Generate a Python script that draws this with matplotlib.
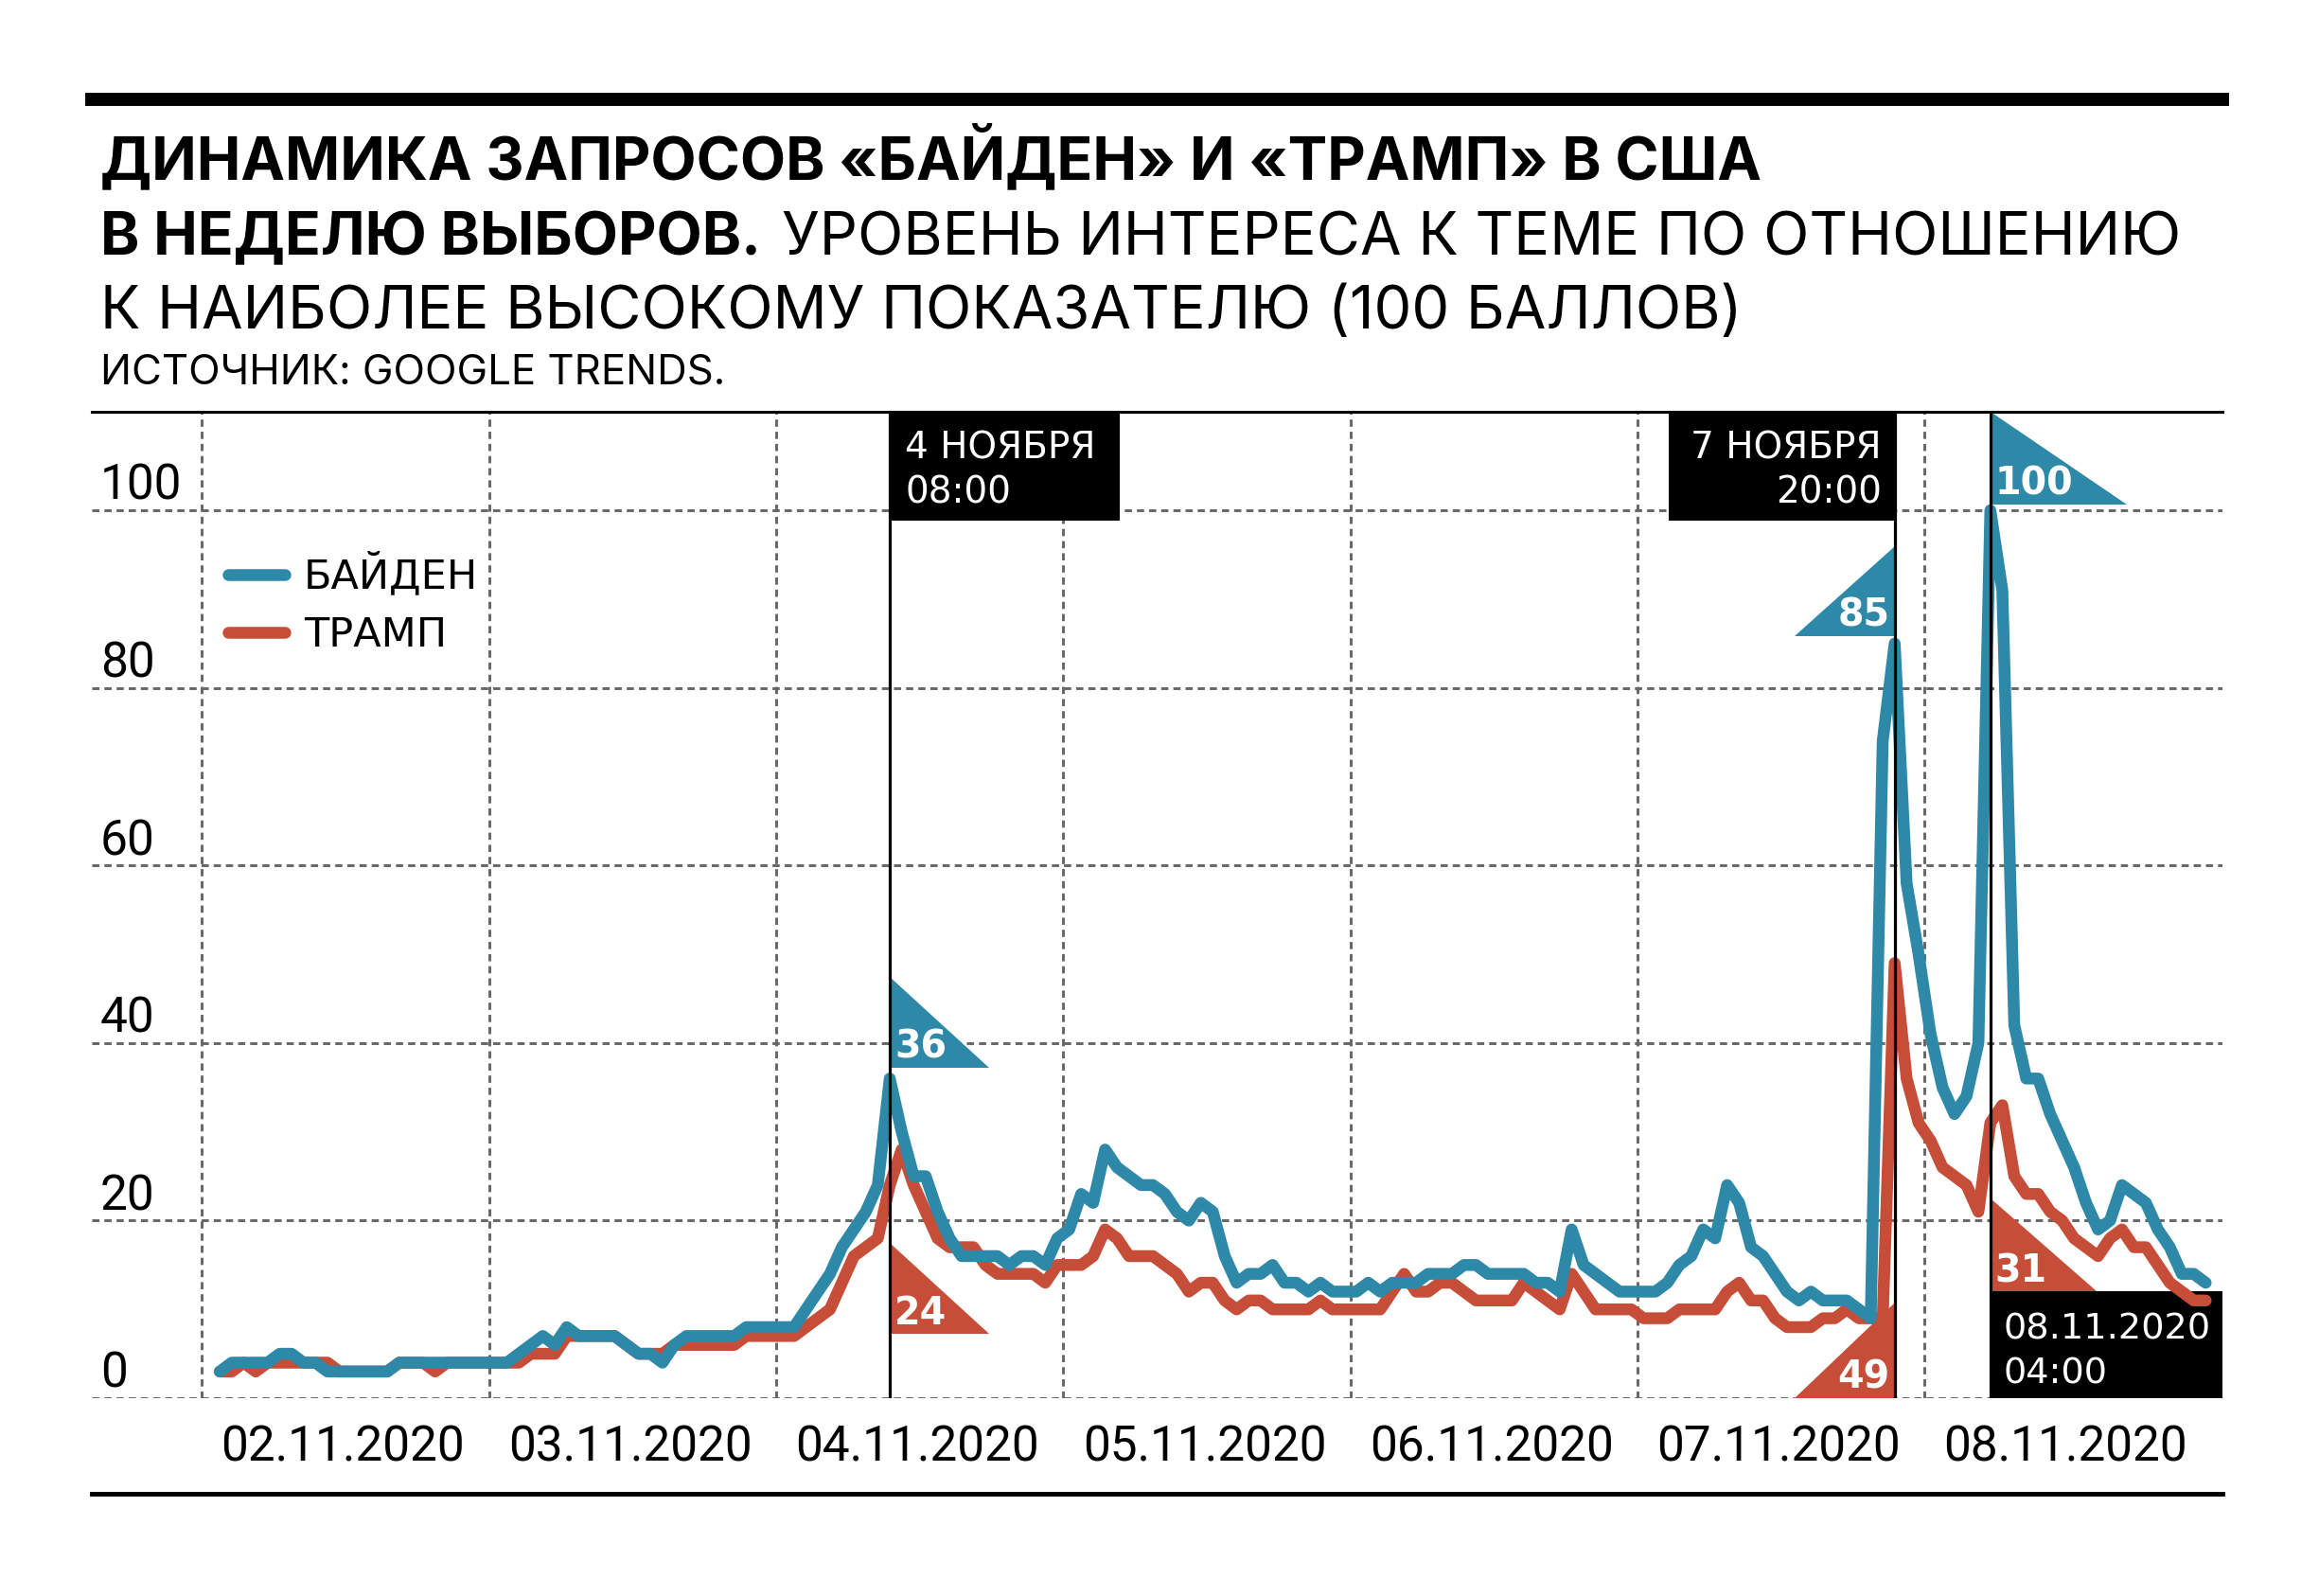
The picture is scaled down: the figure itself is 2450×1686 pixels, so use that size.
import matplotlib
matplotlib.use("Agg")
import matplotlib.pyplot as plt
from matplotlib.patches import Rectangle, Polygon
import numpy as np

################################################################################
# Google Trends, hourly values from 02.11.2020 00:00
biden = [3, 4, 4, 4, 4, 5, 5, 4, 4, 3, 3, 3, 3, 3, 3, 4, 4, 4, 4, 4,
         4, 4, 4, 4, 4, 5, 6, 7, 6, 8, 7, 7, 7, 7, 6, 5, 5, 4, 6, 7,
         7, 7, 7, 7, 8, 8, 8, 8, 8, 10, 12, 14, 17, 19, 21, 24, 36, 30, 25, 25,
         21, 18, 16, 16, 16, 16, 15, 16, 16, 15, 18, 19, 23, 22, 28, 26, 25, 24, 24, 23,
         21, 20, 22, 21, 16, 13, 14, 14, 15, 13, 13, 12, 13, 12, 12, 12, 13, 12, 13, 13,
         13, 14, 14, 14, 15, 15, 14, 14, 14, 14, 13, 13, 12, 19, 15, 14, 13, 12, 12, 12,
         12, 13, 15, 16, 19, 18, 24, 22, 17, 16, 14, 12, 11, 12, 11, 11, 11, 10, 9, 74,
         85, 58, 50, 41, 35, 32, 34, 40, 100, 91, 42, 36, 36, 32, 29, 26, 22, 19, 20, 24,
         23, 22, 19, 17, 14, 14, 13]
trump = [3, 3, 4, 3, 4, 4, 4, 4, 4, 4, 3, 3, 3, 3, 3, 4, 4, 4, 3, 4,
         4, 4, 4, 4, 4, 4, 5, 5, 5, 7, 7, 7, 7, 7, 6, 5, 5, 5, 6, 6,
         6, 6, 6, 6, 7, 7, 7, 7, 7, 8, 9, 10, 13, 16, 17, 18, 24, 28, 24, 21,
         18, 17, 17, 17, 15, 14, 14, 14, 14, 13, 15, 15, 15, 16, 19, 18, 16, 16, 16, 15,
         14, 12, 13, 13, 11, 10, 11, 11, 10, 10, 10, 10, 11, 10, 10, 10, 10, 10, 12, 14,
         12, 12, 13, 13, 12, 11, 11, 11, 11, 13, 12, 11, 10, 14, 12, 10, 10, 10, 10, 9,
         9, 9, 10, 10, 10, 10, 12, 13, 11, 11, 9, 8, 8, 8, 9, 9, 10, 9, 9, 9,
         49, 36, 31, 29, 26, 25, 24, 21, 31, 33, 25, 23, 23, 21, 20, 18, 17, 16, 18, 19,
         17, 17, 15, 13, 12, 11, 11]
hours = np.arange(len(biden))

day_labels = ["02.11.2020", "03.11.2020", "04.11.2020", "05.11.2020",
              "06.11.2020", "07.11.2020", "08.11.2020"]
y_ticks = [0, 20, 40, 60, 80, 100]

# marked moments (hour index)
marks = [56, 140, 148]

BLUE = "#2E88A8"
RED = "#C64E38"
GRID = "#666666"
SANS = ["Roboto", "DejaVu Sans"]
HEAD = ["Inter", "Roboto", "DejaVu Sans"]
WIDE = ["DejaVu Sans"]

################################################################################
W, H = 2450, 1686
fig = plt.figure(figsize=(W / 100, H / 100), dpi=100)
fig.patch.set_facecolor("white")


def fx(px):
    return px / W


def fy(py):
    return 1 - py / H


ax = fig.add_axes([fx(97), fy(1477), (2348 - 97) / W, (1477 - 435) / H])
ax.set_xlim(-10.7, 167.4)
ax.set_ylim(0, 111.1)
ax.axis("off")

# grid
for v in y_ticks:
    ax.axhline(v, color=GRID, lw=2.1, ls=(0, (2.6, 1.8)), zorder=1)
    ax.text(-10.0, v + 1.2, str(v), fontsize=37, family=SANS,
            ha="left", va="baseline", zorder=6)
for k, lab in enumerate(day_labels):
    ax.axvline(-1.5 + 24 * k, color=GRID, lw=2.1, ls=(0, (2.6, 1.8)), zorder=1)
    ax.text(10.3 + 24 * k, -5.6, lab, fontsize=37, family=SANS,
            ha="center", va="center", clip_on=False)
ax.axhline(111.1, color="black", lw=2.2, zorder=6, clip_on=False)

# data
ax.plot(hours, trump, color=RED, lw=9, solid_capstyle="round",
        solid_joinstyle="round", zorder=4)
ax.plot(hours, biden, color=BLUE, lw=9, solid_capstyle="round",
        solid_joinstyle="round", zorder=4.5)

# marked hours
for m in marks:
    ax.plot([m, m], [0, 111.1], color="black", lw=2.3, zorder=5)


def flag(h, bottom, height, width, color, text, side):
    d = 1 if side == "right" else -1
    tri = Polygon([(h, bottom + height), (h, bottom), (h + d * width, bottom)],
                  closed=True, facecolor=color, edgecolor="none", zorder=3)
    ax.add_patch(tri)
    ax.text(h + d * 0.4, bottom + 1.1, text, color="white", fontsize=28.5,
            family=WIDE, weight="bold", ha="left" if d > 0 else "right",
            va="baseline", zorder=6)


flag(marks[0], 37.2, 10.3, 8.3, BLUE, str(biden[marks[0]]), "right")
flag(marks[0], 7.2, 10.3, 8.3, RED, str(trump[marks[0]]), "right")
flag(marks[1], 85.8, 10.2, 8.4, BLUE, str(biden[marks[1]]), "left")
flag(marks[1], 0.0, 10.8, 8.4, RED, str(trump[marks[1]]), "left")
flag(marks[2], 100.7, 10.4, 11.4, BLUE, str(biden[marks[2]]), "right")
flag(marks[2], 12.0, 10.5, 8.9, RED, str(trump[marks[2]]), "right")

# black date boxes
BOX_FS = 28
ax.add_patch(Rectangle((marks[0], 98.8), 19.2, 12.3, facecolor="black",
                       edgecolor="none", zorder=2))
ax.text(marks[0] + 1.3, 105.8, "4 НОЯБРЯ", color="white", fontsize=BOX_FS,
        family=WIDE, ha="left", va="baseline", zorder=6)
ax.text(marks[0] + 1.3, 100.8, "08:00", color="white", fontsize=BOX_FS,
        family=WIDE, ha="left", va="baseline", zorder=6)

ax.add_patch(Rectangle((marks[1] - 18.9, 98.8), 18.9, 12.3, facecolor="black",
                       edgecolor="none", zorder=2))
ax.text(marks[1] - 1.1, 105.8, "7 НОЯБРЯ", color="white", fontsize=BOX_FS,
        family=WIDE, ha="right", va="baseline", zorder=6)
ax.text(marks[1] - 1.1, 100.8, "20:00", color="white", fontsize=BOX_FS,
        family=WIDE, ha="right", va="baseline", zorder=6)

ax.add_patch(Rectangle((marks[2], 0), 167.4 - marks[2], 12.0,
                       facecolor="black", edgecolor="none", zorder=2))
ax.text(marks[2] + 1.1, 6.7, "08.11.2020", color="white", fontsize=27.5,
        family=WIDE, ha="left", va="baseline", zorder=6)
ax.text(marks[2] + 1.1, 1.7, "04:00", color="white", fontsize=27.5,
        family=WIDE, ha="left", va="baseline", zorder=6)

# legend
h_b, = ax.plot([], [], color=BLUE, lw=9, solid_capstyle="round")
h_t, = ax.plot([], [], color=RED, lw=9, solid_capstyle="round")
leg = ax.legend([h_b, h_t], ["БАЙДЕН", "ТРАМП"], loc="upper left",
                bbox_to_anchor=(0.064, 0.857), frameon=False,
                prop={"family": WIDE, "size": 31}, handlelength=1.4,
                handletextpad=0.45, labelspacing=0.45, borderaxespad=0,
                borderpad=0)
leg.set_zorder(7)

# header rules
fig.add_artist(plt.Line2D([fx(97), fx(2348)], [fy(105), fy(105)],
                          color="black", lw=10))
fig.add_artist(plt.Line2D([fx(97), fx(2348)], [fy(1578), fy(1578)],
                          color="black", lw=3.5))

# titles
fig.text(fx(106), fy(189), "ДИНАМИКА ЗАПРОСОВ «БАЙДЕН» И «ТРАМП» В США",
         fontsize=45, weight="bold", family=HEAD, va="baseline")
t_bold = fig.text(fx(106), fy(269), "В НЕДЕЛЮ ВЫБОРОВ.", fontsize=45,
                  weight="bold", family=HEAD, va="baseline")
fig.canvas.draw()
bb = t_bold.get_window_extent()
fig.text(bb.x1 / W + fx(22), fy(269), "УРОВЕНЬ ИНТЕРЕСА К ТЕМЕ ПО ОТНОШЕНИЮ",
         fontsize=45.5, family=HEAD, va="baseline")
fig.text(fx(106), fy(347), "К НАИБОЛЕЕ ВЫСОКОМУ ПОКАЗАТЕЛЮ (100 БАЛЛОВ)",
         fontsize=45.5, family=HEAD, va="baseline")
fig.text(fx(106), fy(406), "ИСТОЧНИК: GOOGLE TRENDS.", fontsize=31.5,
         family=HEAD, va="baseline")

fig.savefig("out.png", dpi=100)
